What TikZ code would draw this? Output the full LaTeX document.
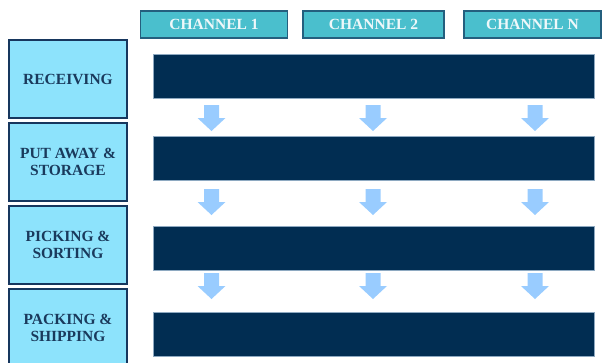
\documentclass[tikz,border=0pt]{standalone}
\usepackage{fontspec}
\setmainfont{Liberation Serif}
\definecolor{stagefill}{HTML}{8DE3FC}
\definecolor{stageline}{HTML}{17375E}
\definecolor{stagetext}{HTML}{1A3A5C}
\definecolor{chanfill}{HTML}{4ABFCD}
\definecolor{chanline}{HTML}{245F7E}
\definecolor{chantext}{HTML}{EEF8FA}
\definecolor{barfill}{HTML}{012D52}
\definecolor{barline}{HTML}{8EA9C1}
\definecolor{arrowfill}{HTML}{99CCFF}
\tikzset{
  stagebox/.style={draw=stageline, line width=1.6pt, fill=stagefill, minimum width=118pt, minimum height=78pt,
    inner sep=0pt, text=stagetext, align=center, font=\fontsize{15.5}{17}\selectfont\bfseries},
  chanbox/.style={draw=chanline, line width=1.2pt, fill=chanfill, minimum height=27pt,
    inner sep=0pt, text=chantext, font=\fontsize{15.5}{17}\selectfont\bfseries},
  barbox/.style={draw=barline, line width=0.5pt, fill=barfill, minimum width=441pt, minimum height=44pt, inner sep=0pt},
  pics/downarrow/.style={code={
    \fill[arrowfill] (-7.5,0) -- (7.5,0) -- (7.5,13) -- (14,13) -- (0,26) -- (-14,13) -- (-7.5,13) -- cycle;
  }}
}
\begin{document}
\begin{tikzpicture}[x=1pt,y=-1pt]
\useasboundingbox (0,0) rectangle (603,362);
\clip (0,0) rectangle (603,362);
% channel headers
\node[chanbox, minimum width=147pt] (ch1) at (214,24.5) {CHANNEL 1};
\node[chanbox, minimum width=141pt] (ch2) at (373.5,24.5) {CHANNEL 2};
\node[chanbox, minimum width=137pt] (chn) at (532.5,24.5) {CHANNEL N};
% stages
\node[stagebox] (s1) at (68,79) {RECEIVING};
\node[stagebox] (s2) at (68,162) {PUT AWAY \&\\STORAGE};
\node[stagebox] (s3) at (68,245) {PICKING \&\\SORTING};
\node[stagebox] (s4) at (68,328) {PACKING \&\\SHIPPING};
% bars
\node[barbox] (b1) at (373.5,76.5) {};
\node[barbox] (b2) at (373.5,158) {};
\node[barbox] (b3) at (373.5,248) {};
\node[barbox] (b4) at (373.5,334) {};
% arrows
\foreach \r/\y in {1/105,2/189,3/273}{
  \pic (a\r c1) at (211.5,\y) {downarrow};
  \pic (a\r c2) at (373,\y) {downarrow};
  \pic (a\r cn) at (535,\y) {downarrow};
}
\end{tikzpicture}
\end{document}
